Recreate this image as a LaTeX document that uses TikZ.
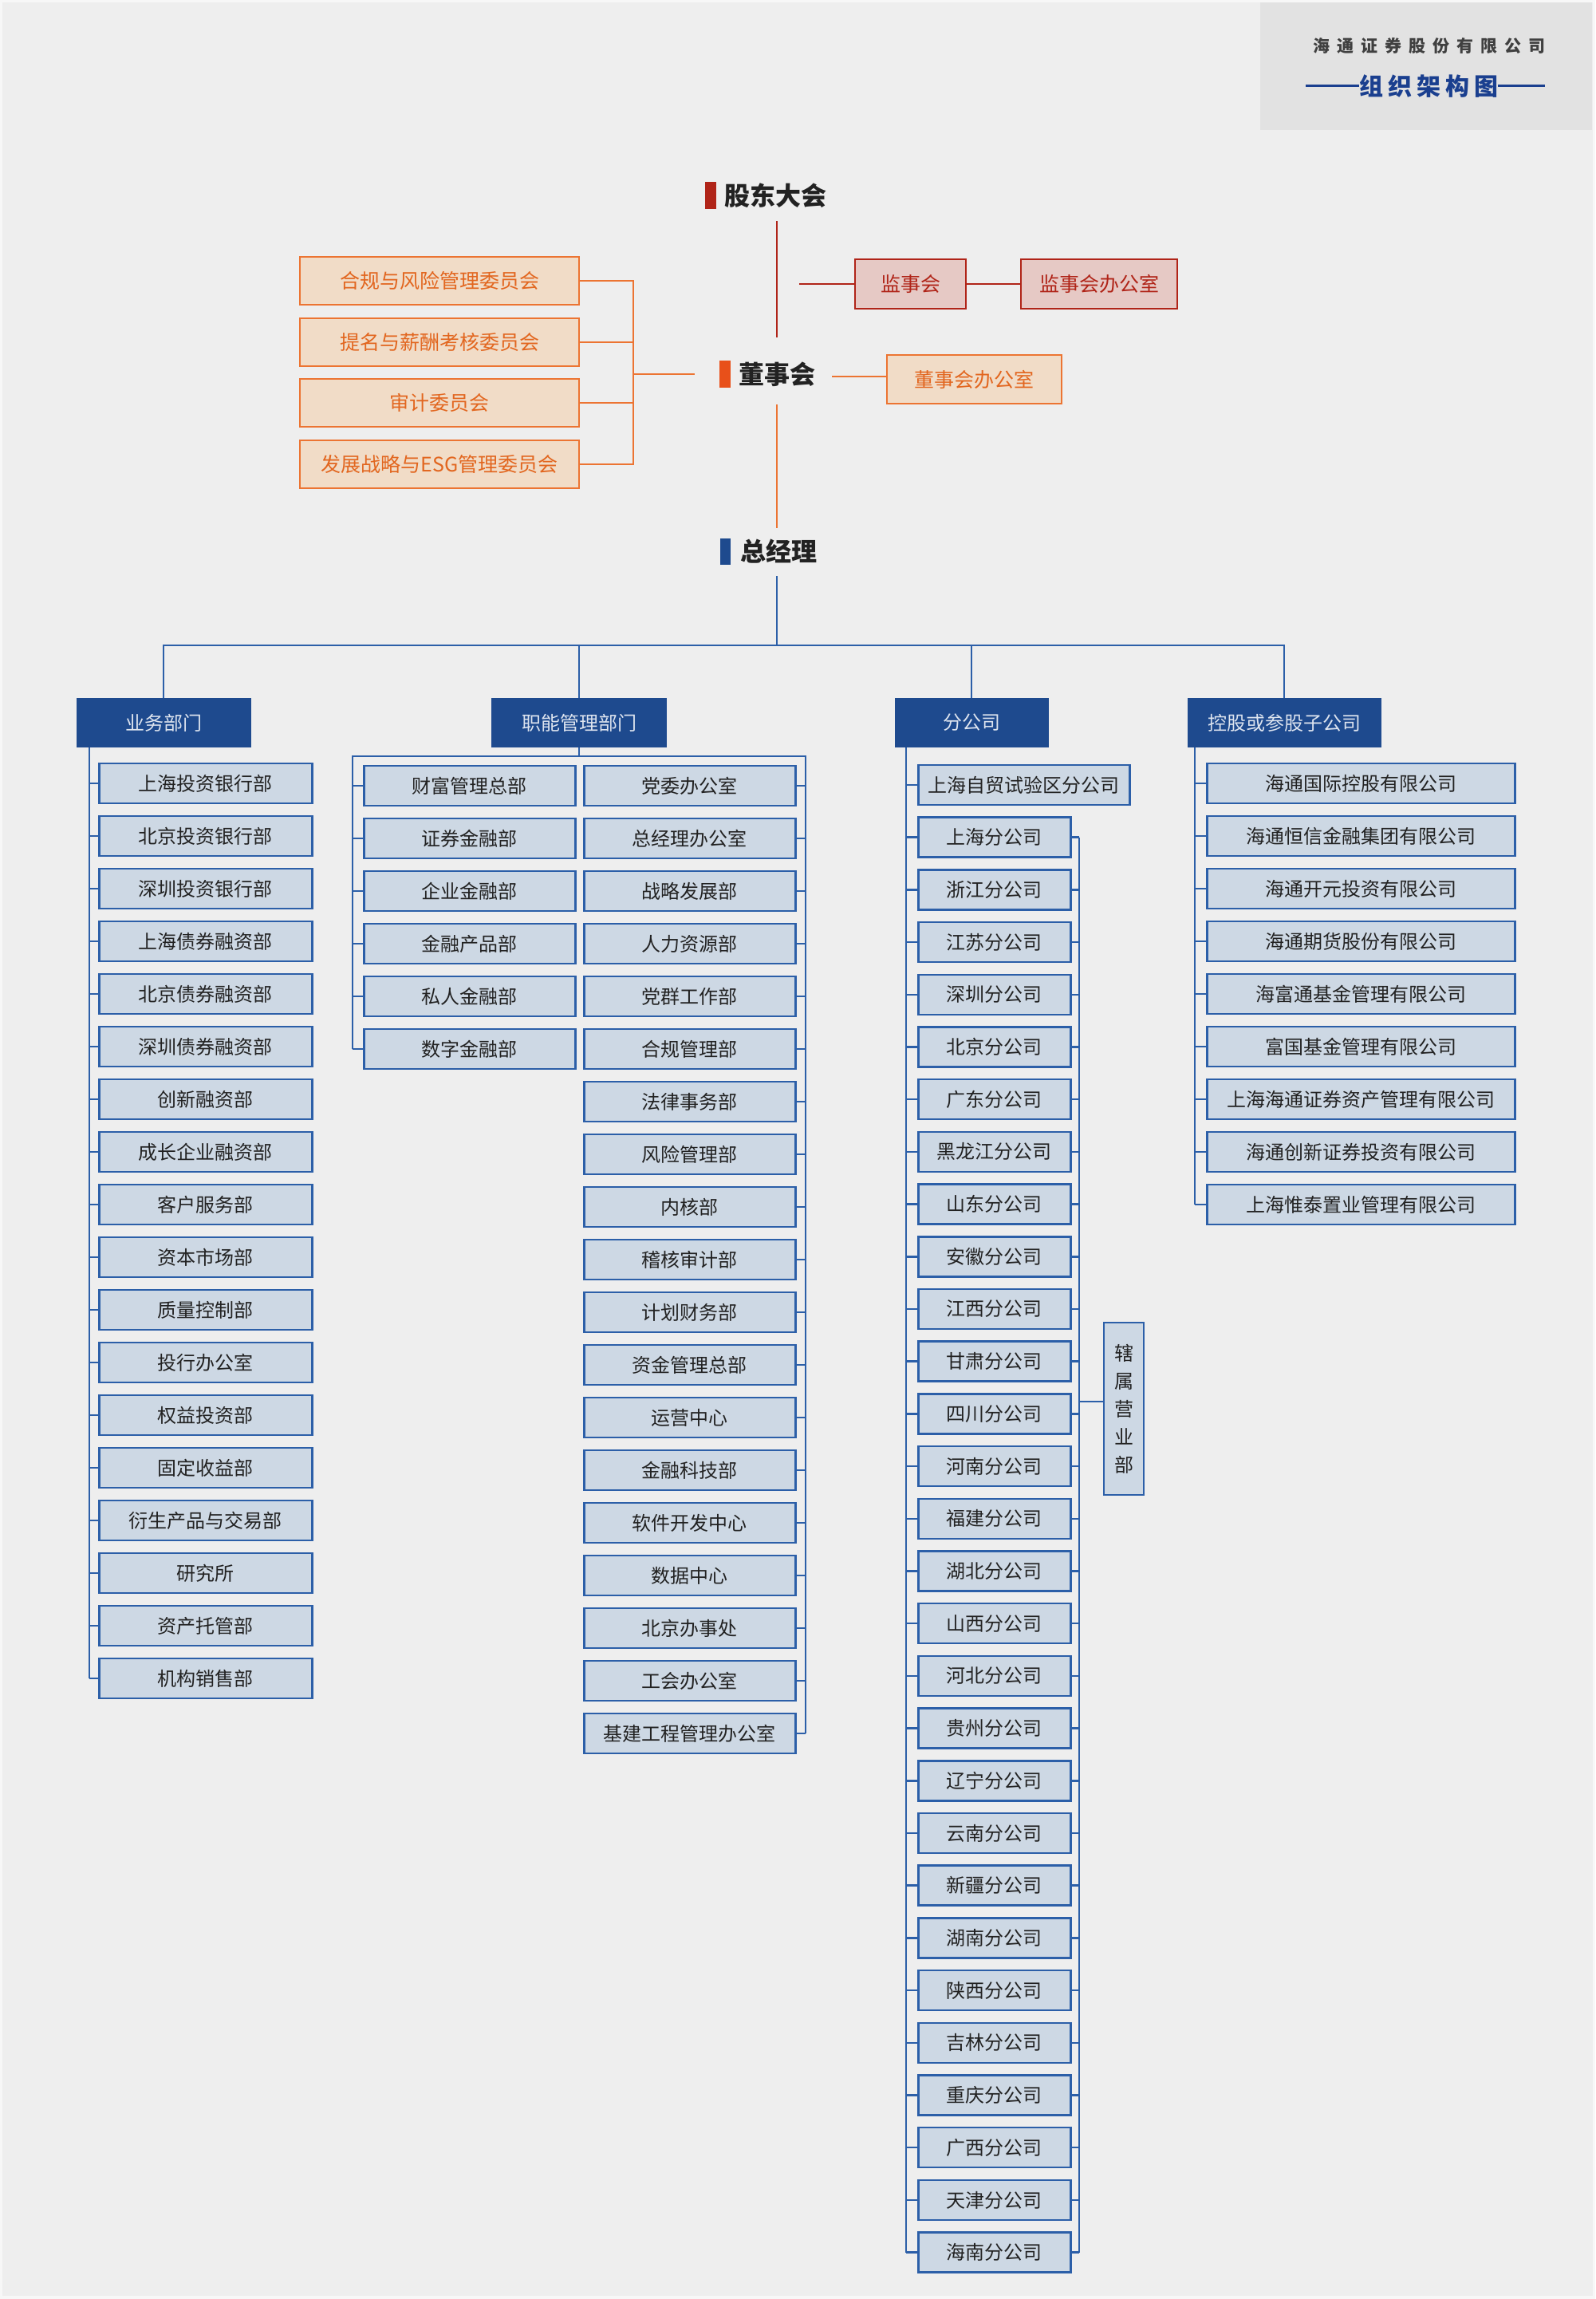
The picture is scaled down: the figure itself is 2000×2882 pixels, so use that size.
\documentclass[tikz,border=0pt]{standalone}
\usepackage{fontspec}
\newfontfamily\cjk{Noto Sans CJK SC}
\definecolor{bg}{HTML}{EEEEEE}
\definecolor{titlebg}{HTML}{E2E2E2}
\definecolor{navy}{HTML}{1E4A8E}
\definecolor{lineblue}{HTML}{2C5FA8}
\definecolor{boxfill}{HTML}{CDD8E4}
\definecolor{darkred}{HTML}{B02418}
\definecolor{redfill}{HTML}{E6C9C5}
\definecolor{orng}{HTML}{EC7432}
\definecolor{peach}{HTML}{F1DCC7}
\definecolor{orangetext}{HTML}{E2661F}
\definecolor{orangebar}{HTML}{E8501A}
\definecolor{titleblue}{HTML}{1A3F8F}
\definecolor{txt}{HTML}{222222}
\definecolor{headtxt}{HTML}{DDE4EF}
\tikzset{
  bx/.style={draw=lineblue, line width=2.5pt, fill=boxfill, minimum height=50pt, inner sep=0pt,
    font=\cjk\fontsize{24}{28}\selectfont, text=txt, anchor=west},
  head/.style={fill=navy, minimum height=62pt, inner sep=0pt, font=\cjk\fontsize{24}{28}\selectfont, text=headtxt},
  comm/.style={draw=orng, line width=2.5pt, fill=peach, text=orangetext, minimum width=350pt, minimum height=60pt,
    inner sep=0pt, font=\cjk\fontsize{25}{28}\selectfont},
  redbox/.style={draw=darkred, line width=2.5pt, fill=redfill, text=darkred, minimum height=62pt, inner sep=0pt,
    font=\cjk\fontsize{25}{28}\selectfont},
  toptitle/.style={font=\cjk\bfseries\fontsize{32}{36}\selectfont, text=txt, inner sep=0pt},
  bl/.style={draw=lineblue, line width=2.5pt},
  rl/.style={draw=darkred, line width=2.5pt},
  ol/.style={draw=orng, line width=2.5pt},
}
\begin{document}
\begin{tikzpicture}[x=1pt,y=-1pt]
\useasboundingbox (0,0) rectangle (2000,2882);
\fill[white!50!bg] (0,0) rectangle (2000,2882);
\fill[bg] (3,3) rectangle (1997,2878);

% title box
\fill[titlebg] (1580,3) rectangle (1996,163);
\node[font=\cjk\bfseries\fontsize{21}{24}\selectfont\addfontfeatures{LetterSpace=43}, text=black!75, inner sep=0pt] (tt1) at (1792,58) {海通证券股份有限公司};
\node[font=\cjk\bfseries\fontsize{30}{34}\selectfont\addfontfeatures{LetterSpace=20}, text=titleblue, inner sep=0pt] (tt2) at (1791,108) {组织架构图};
\draw[titleblue, line width=3pt] (1637,108) -- (tt2.west);
\draw[titleblue, line width=3pt] (tt2.east) -- (1937,108);

% top level
\node[toptitle] (gd) at (972,245) {股东大会};
\fill[darkred] (884,228) rectangle (898,262);
\node[toptitle] (ds) at (974,469) {董事会};
\fill[orangebar] (902,452) rectangle (916,486);
\node[toptitle] (zjl) at (976,691) {总经理};
\fill[navy] (903,675) rectangle (916,708);

\coordinate (gdb) at (974,277);
\coordinate (dst) at (974,423);
\coordinate (dsb) at (974,507);
\coordinate (zjt) at (974,662);
\coordinate (zjb) at (974,722);
\coordinate (hbus) at (974,809);
\draw[rl] (gdb) -- (dst);
\draw[ol] (dsb) -- (zjt);
\draw[bl] (zjb) -- (hbus);

% supervisory board
\node[redbox, minimum width=139pt] (js) at (1141.5,356) {监事会};
\node[redbox, minimum width=196pt] (jsb) at (1378,356) {监事会办公室};
\coordinate (jsl) at (1002,356);
\draw[rl] (jsl) -- (js.west);
\draw[rl] (js.east) -- (jsb.west);

% board office
\node[comm, minimum width=219pt, minimum height=61pt] (dso) at (1221.5,475.5) {董事会办公室};
\coordinate (dsr) at (1043,472);
\draw[ol] (dsr) -- (dsr -| dso.west);

% committees
\node[comm] (c1) at (551,352) {合规与风险管理委员会};
\node[comm] (c2) at (551,429) {提名与薪酬考核委员会};
\node[comm] (c3) at (551,505) {审计委员会};
\node[comm] (c4) at (551,582) {发展战略与ESG管理委员会};
\coordinate (cbus) at (794,469);
\coordinate (dsl) at (871,469);
\draw[ol] (c1.east) -- (c1.east -| cbus) -- (c4.east -| cbus) -- (c4.east);
\draw[ol] (c2.east) -- (c2.east -| cbus);
\draw[ol] (c3.east) -- (c3.east -| cbus);
\draw[ol] (cbus) -- (dsl);

% headers
\node[head, minimum width=219pt] (ywh) at (205,906) {业务部门};
\node[head, minimum width=220pt] (znh) at (726,906) {职能管理部门};
\node[head, minimum width=193pt] (fgh) at (1218,906) {分公司};
\node[head, minimum width=243pt] (kgh) at (1610,906) {控股或参股子公司};
\draw[bl] (ywh.north) |- (kgh.north |- hbus) -- (kgh.north);
\draw[bl] (znh.north) -- (znh.north |- hbus);
\draw[bl] (fgh.north) -- (fgh.north |- hbus);

% business departments
\coordinate (ywsp) at (112,937);
\foreach \t [count=\i from 0] in {上海投资银行部,北京投资银行部,深圳投资银行部,上海债券融资部,北京债券融资部,深圳债券融资部,创新融资部,成长企业融资部,客户服务部,资本市场部,质量控制部,投行办公室,权益投资部,固定收益部,衍生产品与交易部,研究所,资产托管部,机构销售部}{
  \node[bx, minimum width=267pt] (yw\i) at (123,{982+66*\i}) {\t};
  \draw[bl] (yw\i.west) -- (yw\i.west -| ywsp);
}
\draw[bl] (ywsp) -- (ywsp |- yw17.west);

% functional departments
\coordinate (znL) at (442,948);
\coordinate (znR) at (1010,948);
\draw[bl] (znh.south) -- (znh.south |- znL);
\foreach \t [count=\i from 0] in {财富管理总部,证券金融部,企业金融部,金融产品部,私人金融部,数字金融部}{
  \node[bx, minimum width=265pt] (zl\i) at (455,{985+66*\i}) {\t};
  \draw[bl] (zl\i.west) -- (zl\i.west -| znL);
}
\foreach \t [count=\i from 0] in {党委办公室,总经理办公室,战略发展部,人力资源部,党群工作部,合规管理部,法律事务部,风险管理部,内核部,稽核审计部,计划财务部,资金管理总部,运营中心,金融科技部,软件开发中心,数据中心,北京办事处,工会办公室,基建工程管理办公室}{
  \node[bx, minimum width=265pt] (zr\i) at (731,{985+66*\i}) {\t};
  \draw[bl] (zr\i.east) -- (zr\i.east -| znR);
}
\draw[bl] (znL |- zl5.west) -- (znL) -- (znR) -- (znR |- zr18.east);

% branches
\coordinate (fgL) at (1136,937);
\coordinate (fgR) at (1353,1050);
\node[bx, minimum width=265pt] (f0) at (1150,984) {上海自贸试验区分公司};
\draw[bl] (f0.west) -- (f0.west -| fgL);
\foreach \t [count=\i from 1] in {上海分公司,浙江分公司,江苏分公司,深圳分公司,北京分公司,广东分公司,黑龙江分公司,山东分公司,安徽分公司,江西分公司,甘肃分公司,四川分公司,河南分公司,福建分公司,湖北分公司,山西分公司,河北分公司,贵州分公司,辽宁分公司,云南分公司,新疆分公司,湖南分公司,陕西分公司,吉林分公司,重庆分公司,广西分公司,天津分公司,海南分公司}{
  \node[bx, minimum width=191pt] (f\i) at (1150,{984+65.7*\i}) {\t};
  \draw[bl] (f\i.west) -- (f\i.west -| fgL);
  \draw[bl] (f\i.east) -- (f\i.east -| fgR);
}
\draw[bl] (fgL) -- (fgL |- f28.west);
\draw[bl] (fgR |- f1.east) -- (fgR |- f28.east);
\node[draw=lineblue, line width=2.5pt, fill=boxfill, minimum width=50pt, minimum height=216pt, inner sep=0pt,
  font=\cjk\fontsize{24}{35}\selectfont, text=txt, align=center] (xs) at (1409,1766) {辖\\属\\营\\业\\部};
\coordinate (xsl) at (1353,1757);
\draw[bl] (xsl) -- (xsl -| xs.west);

% subsidiaries
\coordinate (kgsp) at (1498,937);
\foreach \t [count=\i from 0] in {海通国际控股有限公司,海通恒信金融集团有限公司,海通开元投资有限公司,海通期货股份有限公司,海富通基金管理有限公司,富国基金管理有限公司,上海海通证券资产管理有限公司,海通创新证券投资有限公司,上海惟泰置业管理有限公司}{
  \node[bx, minimum width=386pt] (k\i) at (1512,{982+66*\i}) {\t};
  \draw[bl] (k\i.west) -- (k\i.west -| kgsp);
}
\draw[bl] (kgsp) -- (kgsp |- k8.west);
\end{tikzpicture}
\end{document}
